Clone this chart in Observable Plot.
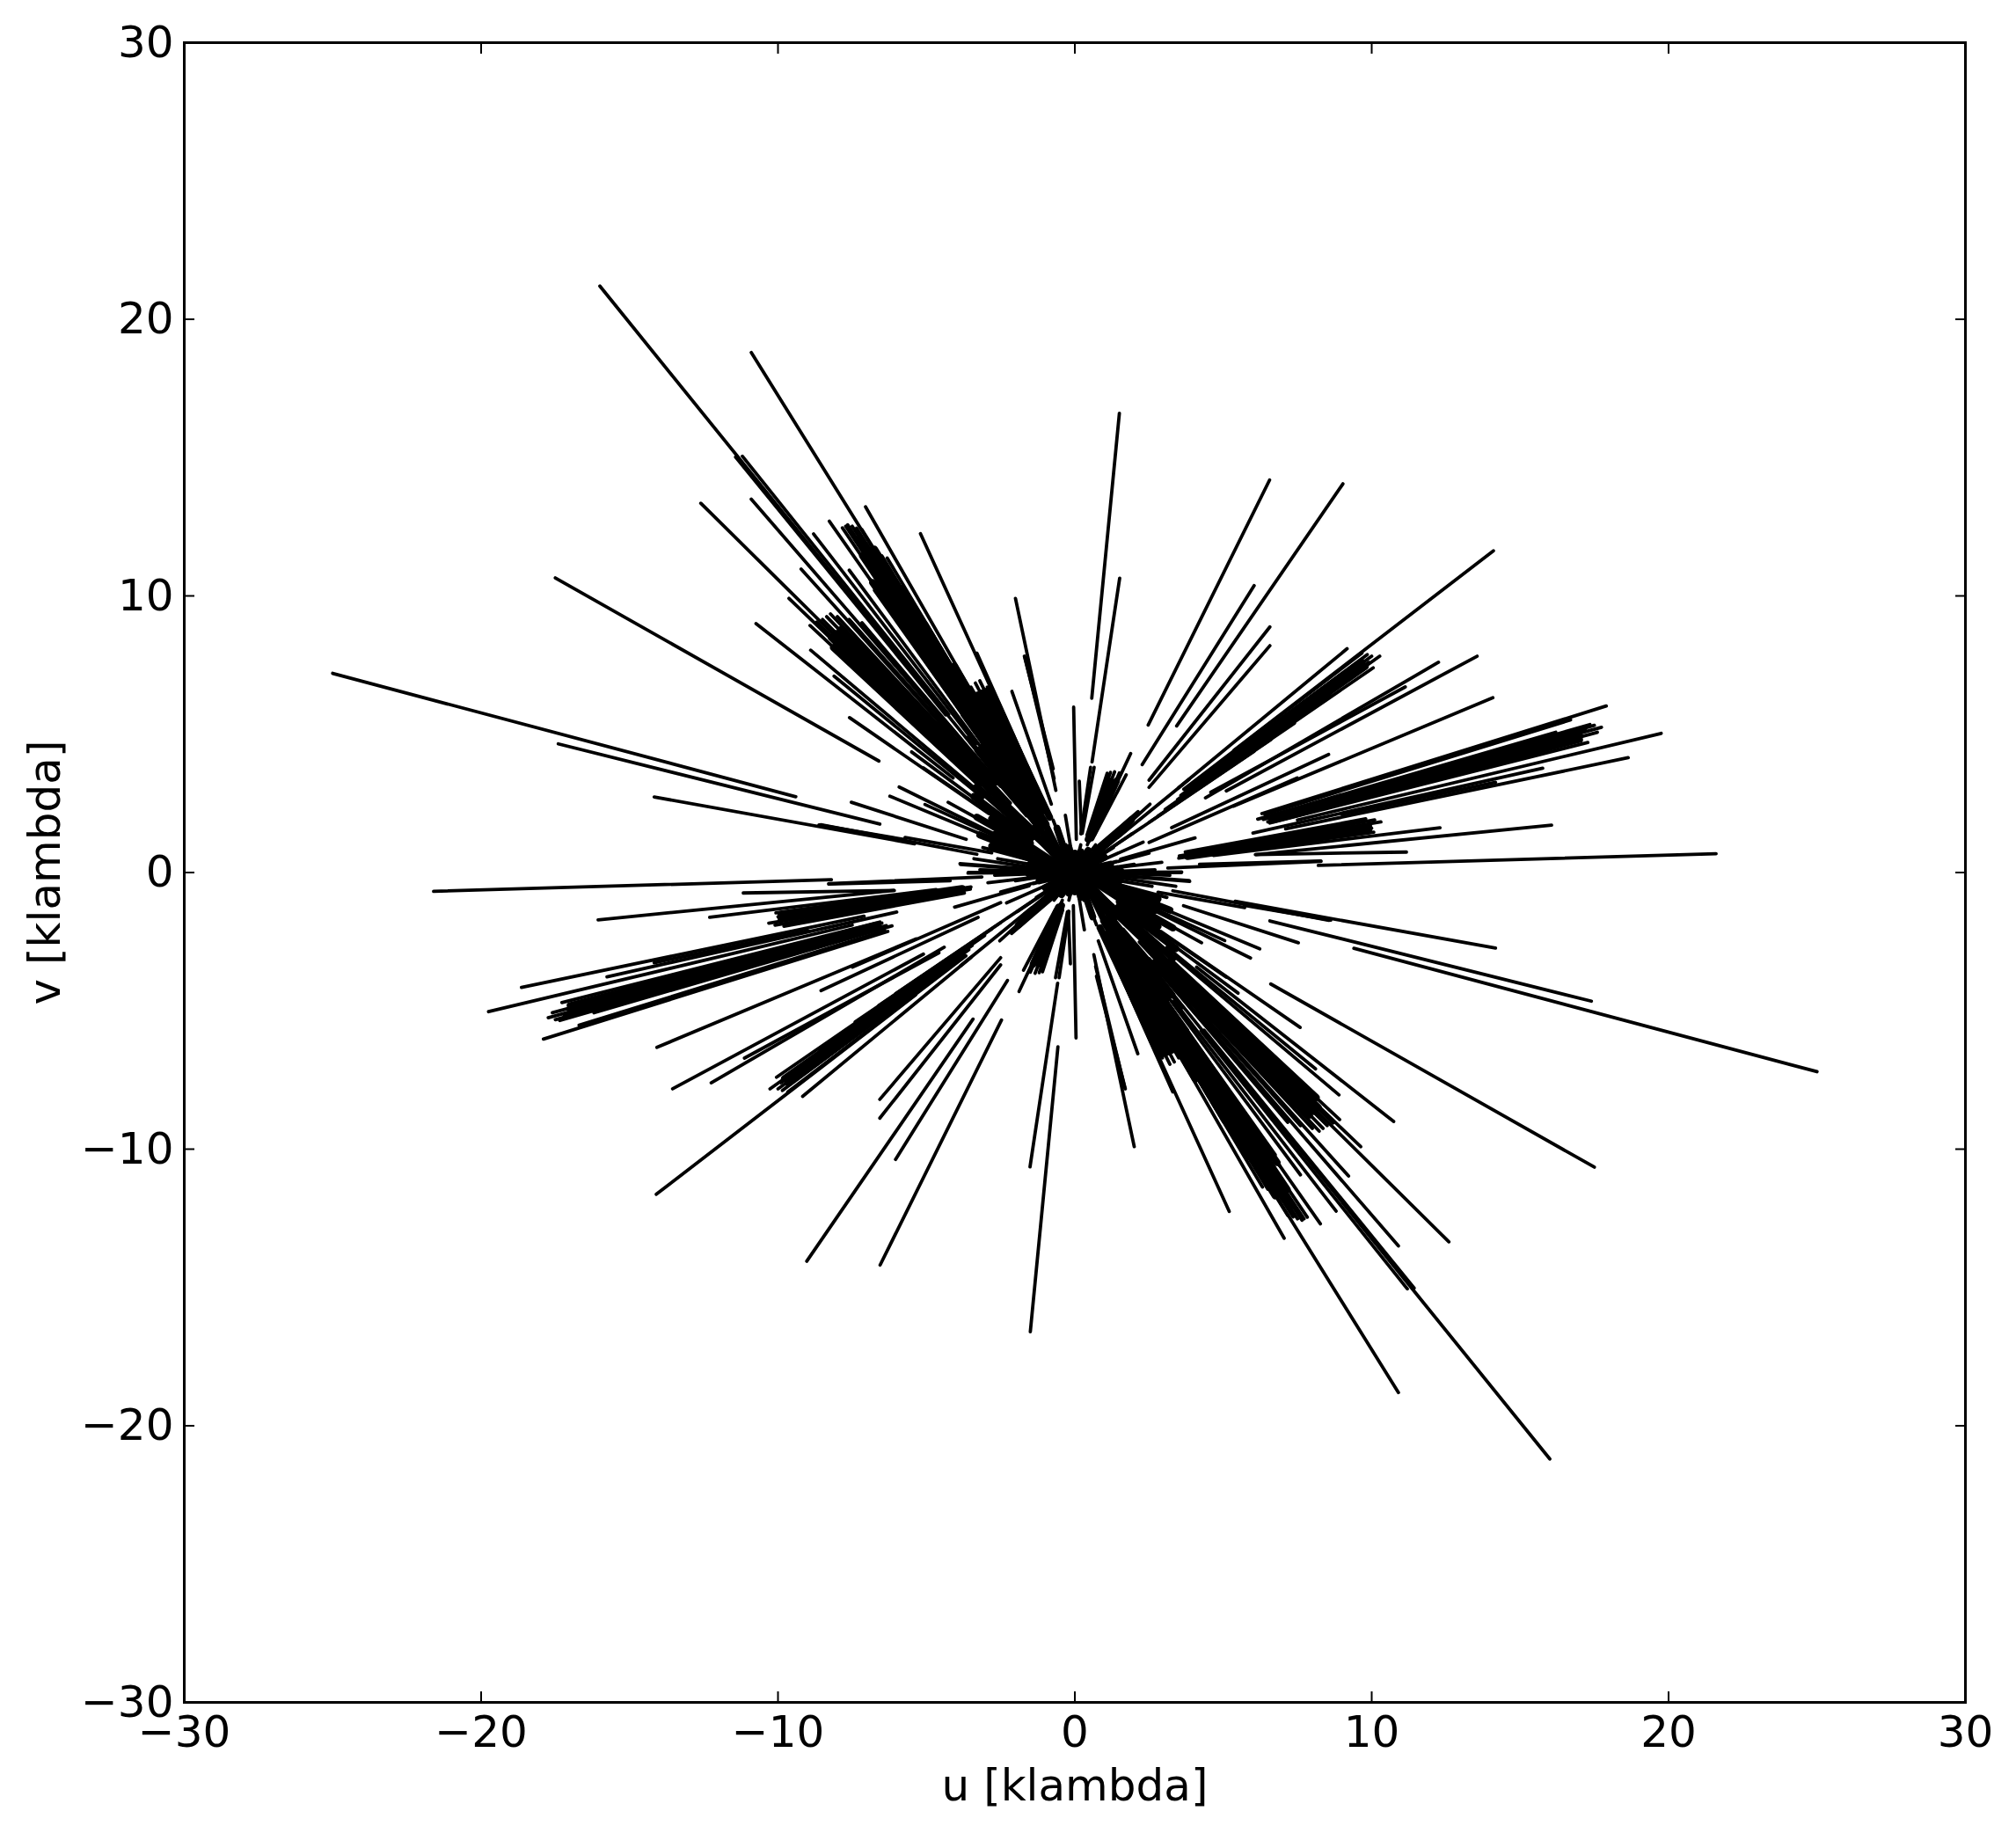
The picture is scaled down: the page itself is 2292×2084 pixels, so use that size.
<!DOCTYPE html>
<html>
<head>
<meta charset="utf-8">
<script src="https://cdn.jsdelivr.net/npm/d3@7"></script>
<script src="https://cdn.jsdelivr.net/npm/@observablehq/plot@0.6"></script>
<style>html,body{margin:0;padding:0;background:#fff}svg{display:block}</style>
</head>
<body>
<div id="chart"></div>
<script>
// each row: outer u, outer v, inner u, inner v (klambda); the conjugate baseline is the negated row
const upperLeftLong = [
 [-25,7.2,-9.4,2.74],[-17.4,4.65,-6.57,1.75],[-14.17,2.73,-5.4,1.04],[-8.62,1.72,-5.71,1.19],
 [-17.5,10.65,-6.6,4.03],[-16,21.2,-6.1,8.06],[-10.9,18.8,-4.15,7.15],[-11.43,15.02,-4.35,5.7],
 [-11.2,15.05,-4.25,5.72],[-10.9,13.5,-4.15,5.13],[-12.6,13.35,-4.8,5.07],[-10.74,9,-4.1,3.42],
 [-9.63,9.91,-3.66,3.77],[-9.22,10.97,-3.5,4.17],[-8.8,12.24,-3.34,4.65],[-8.27,12.7,-3.14,4.83],
 [-7.05,13.22,-2.68,5.02],[-7.6,10.93,-2.9,4.15],[-5.2,12.25,-1.98,4.67],[-8.9,8.04,-3.38,3.05],
 [-8.11,7.1,-3.1,2.7],[-7.59,5.6,-2.9,2.13],[-5.5,4.36,-2.1,1.66],[-5.1,3.78,-2.0,1.5],
 [-7.53,2.54,-3.66,1.2],[-5.92,3.09,-1.97,1.0],[-6.23,2.76,-2.4,1.05],[-5.05,2.46,-1.95,0.95],
 [-4.27,2.54,-1.62,0.97],[-5.72,1.27,-2.8,0.71],[-8.56,1.73,-3.3,0.66],[-3.87,0.32,-1.5,0.12],
 [-3.6,-0.02,-1.4,0]
];
const nearVertical = [
 [-2,9.91,-0.64,2.97],[-1.7,7.82,-0.73,3.75],[-1.68,7.78,-0.7,3.4],[-2.12,6.55,-0.79,2.47],
 [-0.04,5.98,0.05,1.2],[0.15,3.3,0.22,1.41],[1.5,16.6,0.57,6.3],[1.51,10.64,0.58,4],
 [0.53,3.8,0.2,1.4],[0.65,3.8,0.25,1.42],[-0.32,2.07,-0.12,0.77],[-0.73,1.89,-0.3,0.7],
 [1.88,4.3,0.7,1.6]
];
const upperRightLong = [
 [6.56,14.19,2.47,5.33],[9.03,14.05,3.43,5.3],[6.04,10.37,2.27,3.9],[6.57,8.88,2.5,3.34],
 [6.57,8.2,2.5,3.08],[14.1,11.63,5.36,4.42],[9.17,8.09,3.5,3.07],[12.25,7.6,4.4,2.7],
 [13.55,7.82,5.1,2.95],[11.13,6.71,4.58,2.9],[14.08,6.32,5.35,2.4],[8.55,4.27,3.26,1.62],
 [7.49,3.42,2.5,1.09],[4.05,1.25,1.54,0.48],[17.9,6.02,6.3,2.13],[16.7,5.52,6.4,2.1],
 [19.75,5.03,7.5,1.9],[15.76,3.77,6,1.43],[18.64,4.15,7.1,1.58],[14.17,3.26,9.0,2.1],
 [12.3,1.62,4.67,0.62],[16.06,1.71,6.1,0.65],[11.17,0.74,6.08,0.65],[21.6,0.68,8.2,0.26],
 [8.29,0.4,3.13,0.16],[8.29,0.42,4.2,0.3],[3.59,0,1.37,0],[2.93,0.37,1.1,0.14],
 [3.85,-0.29,1.46,-0.11],[3.85,3.37,1.46,1.28],[2.53,2.47,0.96,0.94],[2.13,2.2,0.6,0.8],
 [1.94,1.41,0.74,0.54],[2.27,1.64,0.85,0.62]
];
const topBand = [
 [-7.83,12.46,-2.98,4.73],[-7.72,12.52,-2.93,4.76],[-7.65,12.57,-2.9,4.78],[-7.5,12.52,-2.85,4.76],
 [-7.35,12.45,-2.79,4.73],[-7.17,12.39,-2.72,4.71],[-7.3,12.1,-2.77,4.6],[-7,11.85,-2.66,4.5],
 [-6.75,11.6,-2.57,4.41],[-6.5,11.45,-2.47,4.35],[-6.32,11.37,-2.4,4.32],[-6.9,10.6,-2.62,4.03],
 [-6.75,10.2,-2.57,3.88],[-6.4,10.0,-2.43,3.8],[-6.1,9.8,-2.32,3.72],[-5.8,9.6,-2.2,3.65],
 [-5.4,9.3,-2.05,3.53],[-5.0,9.0,-1.9,3.42]
];
const midBand = [
 [-8.92,8.93,-3.39,3.39],[-8.7,9.05,-3.31,3.44],[-8.5,9.15,-3.23,3.48],[-8.36,9.25,-3.18,3.52],
 [-8.23,9.35,-3.13,3.55],[-8,9.25,-3.04,3.52],[-7.6,9.15,-2.89,3.48],[-7.17,9.03,-2.72,3.43],
 [-7.4,8.5,-2.81,3.23],[-7,8.4,-2.66,3.19],[-6.6,8.2,-2.51,3.12],[-6.02,8,-2.29,3.04],
 [-7.4,7.6,-2.81,2.89],[-6.9,7.3,-2.62,2.77],[-6.3,7,-2.39,2.66],[-5.72,6.6,-2.17,2.51]
];
const steepBand = [
 [-3.5,6.7,-1.33,2.55],[-3.35,6.85,-1.27,2.6],[-3.2,6.93,-1.22,2.63],[-3.3,7.93,-1.25,3.01],
 [-2.95,6.7,-1.12,2.55],[-2.75,6.4,-1.05,2.43],[-2.56,6.13,-0.97,2.33],[-3.1,6.2,-1.18,2.36],
 [-2.7,5.7,-1.03,2.17],[-2.3,5.3,-0.87,2.01],[-4.1,6.3,-1.56,2.39],[-3.8,5.7,-1.44,2.17],
 [-4.3,5.4,-1.63,2.05],[-3.6,4.9,-1.37,1.86]
];
const upperRightBand = [
 [9.67,7.93,3.67,3.01],[9.85,7.88,3.74,2.99],[10,7.82,3.8,2.97],[10.27,7.82,3.9,2.97],
 [10.05,7.4,3.82,2.81],[9.9,7.6,3.76,2.89],[9.4,7.35,3.57,2.79],[9.1,6.95,3.46,2.64],
 [8.6,6.4,3.27,2.43],[8,6,3.04,2.28],[7.4,5.4,2.81,2.05],[6.6,4.8,2.51,1.82],[6.04,4.38,2.3,1.66]
];
const eastBand = [
 [17.35,5.35,6.6,2.03],[17.5,5.32,6.65,2.02],[17.74,5.25,6.74,2],[17.6,5.07,6.69,1.93],
 [17.2,5.15,6.54,1.96],[16.7,5.05,6.35,1.92],[16.2,5.07,6.16,1.93],[17.28,4.7,6.57,1.79],
 [15.6,4.6,6.5,1.83],[14.8,4.3,6.6,1.9],[13.8,4.0,6.7,1.95]
];
const nearEastBand = [
 [10.31,1.83,3.92,0.7],[10.1,1.9,3.84,0.72],[9.8,1.94,3.72,0.74],[10.07,1.46,3.83,0.55],
 [9.9,1.7,3.76,0.65],[9.2,1.6,3.52,0.6],[8.5,1.4,3.72,0.6],[7.8,1.2,3.5,0.52],[10,1.6,3.6,0.58]
];
const northEastSteepBand = [
 [1.09,3.59,0.41,1.36],[1.2,3.62,0.46,1.38],[1.34,3.64,0.51,1.38],[1.5,3.6,0.57,1.37],
 [1.73,3.53,0.66,1.34],[1.35,3.2,0.5,1.2],[1.1,2.6,0.42,1]
];
const centreBaselines = [
 [2.5,0.7,0.4,0.1],[2.6,-0.5,0.4,-0.1],[2.3,1.1,0.3,0.15],[1.7,1.5,0.25,0.2],[1.1,1.1,0.15,0.15],
 [0.7,1,0.1,0.15],[0.2,1,0,0.15],[-0.3,1,0,0.1],[-0.8,1,-0.1,0.1],[-1.3,1.2,-0.15,0.1],
 [-1.9,1.3,-0.2,0.1],[-2.5,1.1,-0.3,0.1],[-3.1,0.9,-0.3,0.1],[-3.4,0.5,-0.3,0],[-3.2,0.1,-0.3,0],
 [-2.7,-0.1,-0.3,0],[1.4,0.4,0.2,0.05],[1.6,0.1,0.2,0],[1,0.6,0.1,0.1],[-1.1,0.6,-0.1,0.1],
 [-1.6,0.3,-0.1,0],[-0.5,0.6,0,0],[0.4,0.7,0,0],[1.3,0.9,0.1,0.1],[2,0.3,0.2,0]
];
// solid parts of the densest fans, where many baselines overlap
const denseCores = [
 [-6.75,11.69,-2.6,4.5],[-6.95,11.57,-2.68,4.46],[-7.15,11.45,-2.75,4.41],[-6.81,10.48,-2.83,4.36],
 [-5.81,10.27,-2.55,4.52],[-4.06,7.47,-2,3.7],
 [-7.9,8.77,-3.1,3.45],[-8.05,8.63,-3.15,3.4],[-8.2,8.49,-3.2,3.3],[-8.13,8.13,-3.2,3.2],[-5.97,6.74,-3,3.4],
 [-2.93,6.58,-1,2.3],[-3.1,6.5,-1.1,2.3],[-3.27,6.42,-1.15,2.27],[-2.39,5.5,-0.85,2],
 [-2.67,4.81,-0.97,1.75],[-2.87,4.69,-1.05,1.7],[-3.08,4.56,-1.12,1.66],[-3.27,4.42,-1.19,1.61],
 [-3.3,3.45,-1.3,1.4],[-3.3,3.1,-1.4,1.3],[-3.4,2.75,-1.5,1.2],[-2.8,1.95,-1.5,1.05],
 [-3.3,2,-1.5,0.9],[-2.7,1.37,-1.5,0.76],[-3.2,1.36,-1.5,0.64],[-2.8,0.96,-1.4,0.48],
 [-1.5,0.05,-0.2,0],[-1.5,0.3,-0.2,0],[-1.6,0.6,-0.2,0],[-1.7,1,-0.2,0],[-1.5,1.55,-0.2,0.1],[-1.3,1.7,-0.2,0.25],
 [-1,1.75,-0.2,0],[-0.6,1.6,-0.1,0],[-0.2,0.9,0,0],[0,0.7,0,0],[0.2,0.75,0,0],[0.45,0.8,0,0],[0.7,0.7,0,0],
 [1,0.55,0,0],[1.2,0.3,0,0],[1.3,0,0,0],[1.5,-0.25,0,0],
 [9.78,7.45,3.9,2.97],[9.65,7.62,3.8,3],
 [17,5.1,6.7,2],[17,4.95,6.7,1.95],[17,4.81,6.7,1.9],
 [9.9,1.66,3.8,0.64],[9.9,1.51,3.8,0.58],
 [1.2,3.3,0.45,1.2],[1.4,3.3,0.55,1.25],[1.9,1.9,0.8,0.8]
];
const allBaselines = [upperLeftLong, nearVertical, upperRightLong, topBand, midBand, steepBand,
  upperRightBand, eastBand, nearEastBand, northEastSteepBand, centreBaselines].flat();
const tickValues = [-30,-20,-10,0,10,20,30];
const xLabel = "u [klambda]";
const yLabel = "v [klambda]";

const fontSize = 50;
const fmt = d => (d < 0 ? "\u2212" + (-d) : String(d));
const withConjugates = rows => rows.flatMap(([a,b,c,d]) => [
  {x1:a,y1:b,x2:c,y2:d},
  {x1:-a,y1:-b,x2:-c,y2:-d}
]);

const chart = Plot.plot({
  width: 2292, height: 2084,
  marginLeft: 209, marginRight: 58, marginTop: 48, marginBottom: 149,
  style: {fontFamily: "'DejaVu Sans'", background: "#fff", color: "#000", overflow: "visible"},
  x: {domain: [-30,30], ticks: tickValues},
  y: {domain: [-30,30], ticks: tickValues},
  marks: [
    Plot.link(withConjugates(denseCores), {x1:"x1",y1:"y1",x2:"x2",y2:"y2",stroke:"#000",strokeWidth:8,strokeLinecap:"round"}),
    Plot.link(withConjugates(allBaselines), {x1:"x1",y1:"y1",x2:"x2",y2:"y2",stroke:"#000",strokeWidth:3.8,strokeLinecap:"round"}),
    Plot.frame({stroke:"#000",strokeWidth:3}),
    Plot.axisX({anchor:"bottom",ticks:tickValues,tickSize:-12,tickPadding:27,strokeWidth:2,fontSize,tickFormat:fmt,label:xLabel,labelAnchor:"center",labelArrow:false,labelOffset:111}),
    Plot.axisX({anchor:"top",ticks:tickValues,tickSize:-12,strokeWidth:2,tickFormat:()=>"",label:null}),
    Plot.axisY({anchor:"left",ticks:tickValues,tickSize:-12,tickPadding:24,strokeWidth:2,fontSize,tickFormat:fmt,label:yLabel,labelAnchor:"center",labelArrow:false,labelOffset:177}),
    Plot.axisY({anchor:"right",ticks:tickValues,tickSize:-12,strokeWidth:2,tickFormat:()=>"",label:null})
  ]
});
document.getElementById("chart").appendChild(chart);
</script>
</body>
</html>
